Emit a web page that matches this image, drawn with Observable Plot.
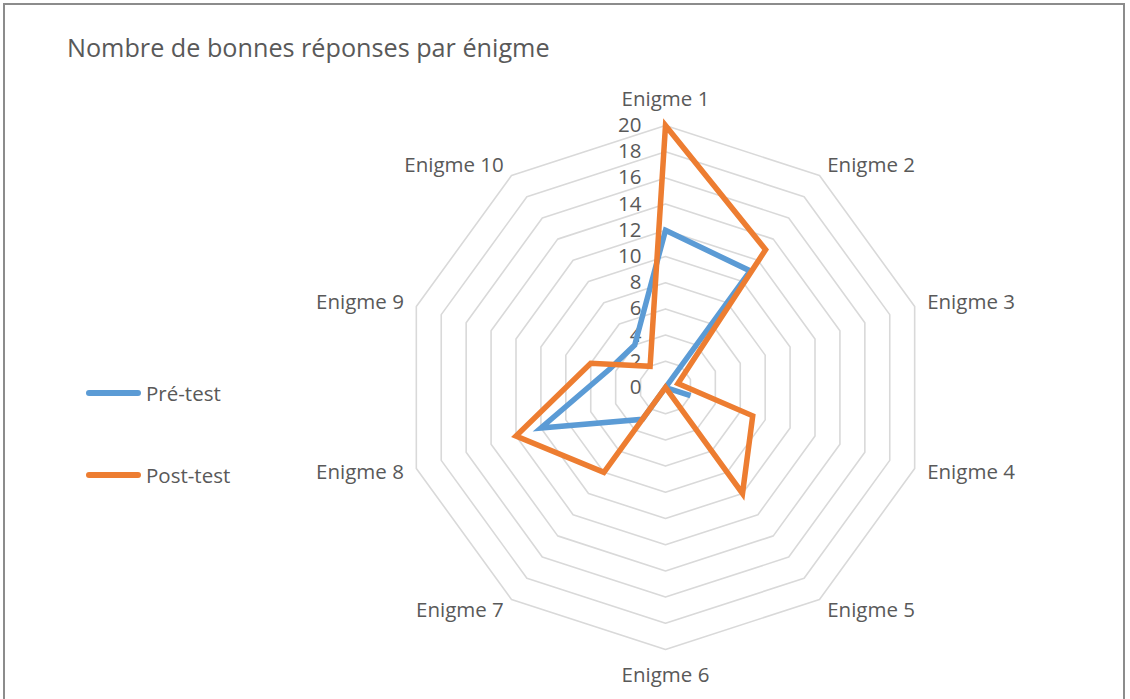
<!DOCTYPE html>
<html>
<head>
<meta charset="utf-8">
<script src="https://cdn.jsdelivr.net/npm/d3@7"></script>
<script src="https://cdn.jsdelivr.net/npm/@observablehq/plot@0.6"></script>
<style>
  html, body { margin: 0; padding: 0; background: #fff; overflow: hidden; }
  #wrap { position: relative; width: 1130px; height: 699px; font-family: "Open Sans", sans-serif; color: #595959; }
  #frame { position: absolute; left: 3px; top: 3px; width: 1122px; height: 740px; border: 2px solid #8c8c8c; box-sizing: border-box; pointer-events: none; }
  #title { position: absolute; left: 67px; top: 35px; font-size: 25.2px; line-height: 25px; white-space: nowrap; }
  .leg { position: absolute; left: 86px; height: 24px; display: flex; align-items: center; font-size: 20.5px; white-space: nowrap; }
  .leg .sw { width: 55px; height: 6px; border-radius: 3px; margin-right: 5px; }
  #chart { position: absolute; left: 0; top: 0; }
</style>
</head>
<body>
<div id="wrap">
  <div id="chart"></div>
  <div id="title">Nombre de bonnes réponses par énigme</div>
  <div id="legend"></div>
  <div id="frame"></div>
</div>
<script>
// ---- data ----
const categories = ["Enigme 1", "Enigme 2", "Enigme 3", "Enigme 4", "Enigme 5",
                    "Enigme 6", "Enigme 7", "Enigme 8", "Enigme 9", "Enigme 10"];
const seriesNames = ["Pré-test", "Post-test"];
const preTest  = [12, 11, 0, 2, 0, 0, 3, 10, 4.5, 4];
const postTest = [20, 13, 1, 7, 10, 0, 8, 12, 6, 2];
const tickValues = [0, 2, 4, 6, 8, 10, 12, 14, 16, 18, 20];
const colors = ["#5B9BD5", "#ED7D31"];

// ---- geometry ----
const W = 1130, H = 699;
const cx = 665, cy = 387, unit = 13.1;
const n = categories.length;
const ang = i => 2 * Math.PI * i / n;

const seriesValues = [preTest, postTest];
const rows = [];
seriesValues.forEach((vals, s) => {
  vals.forEach((v, i) => rows.push({
    series: seriesNames[s], cat: categories[i],
    x: v * Math.sin(ang(i)), y: v * Math.cos(ang(i))
  }));
});

const gridLevels = tickValues.filter(t => t > 0);
const grid = [];
gridLevels.forEach(l => categories.forEach((c, i) =>
  grid.push({ level: l, x: l * Math.sin(ang(i)), y: l * Math.cos(ang(i)) })));

const maxV = d3.max(tickValues);
const labelRows = categories.map((c, i) => {
  const s = Math.sin(ang(i));
  const side = Math.abs(s) < 1e-6 ? "middle" : (s > 0 ? "start" : "end");
  const r = side === "middle" ? maxV + 2 : maxV + 1;
  return { cat: c, side, x: r * Math.sin(ang(i)), y: r * Math.cos(ang(i)) };
});

const textStyle = { fill: "#595959", fontSize: 20.5, lineAnchor: "middle" };

const chart = Plot.plot({
  width: W, height: H,
  marginTop: 0, marginRight: 0, marginBottom: 0, marginLeft: 0,
  style: { fontFamily: "Open Sans, sans-serif", background: "transparent" },
  x: { domain: [-cx / unit, (W - cx) / unit], range: [0, W], axis: null },
  y: { domain: [-(H - cy) / unit, cy / unit], range: [H, 0], axis: null },
  color: { domain: seriesNames, range: colors },
  marks: [
    Plot.line(grid, { x: "x", y: "y", z: "level", curve: "linear-closed",
                      stroke: "#d9d9d9", strokeWidth: 1.6 }),
    Plot.text(tickValues, { x: () => 0, y: d => d, text: d => String(d),
                            textAnchor: "end", dx: -24, ...textStyle }),
    Plot.line(rows, { x: "x", y: "y", z: "series", stroke: "series",
                      curve: "linear-closed", strokeWidth: 5.5,
                      strokeLinejoin: "miter", strokeMiterlimit: 10 }),
    Plot.text(labelRows.filter(d => d.side === "middle"),
              { x: "x", y: "y", text: "cat", textAnchor: "middle", ...textStyle }),
    Plot.text(labelRows.filter(d => d.side === "start"),
              { x: "x", y: "y", text: "cat", textAnchor: "start", ...textStyle }),
    Plot.text(labelRows.filter(d => d.side === "end"),
              { x: "x", y: "y", text: "cat", textAnchor: "end", ...textStyle })
  ]
});
document.getElementById("chart").appendChild(chart);

// ---- legend ----
const legendTops = [381, 463];
const legend = document.getElementById("legend");
seriesNames.forEach((name, i) => {
  const item = document.createElement("div");
  item.className = "leg";
  item.style.top = legendTops[i] + "px";
  const sw = document.createElement("span");
  sw.className = "sw";
  sw.style.background = colors[i];
  const label = document.createElement("span");
  label.textContent = name;
  item.appendChild(sw);
  item.appendChild(label);
  legend.appendChild(item);
});
</script>
</body>
</html>
